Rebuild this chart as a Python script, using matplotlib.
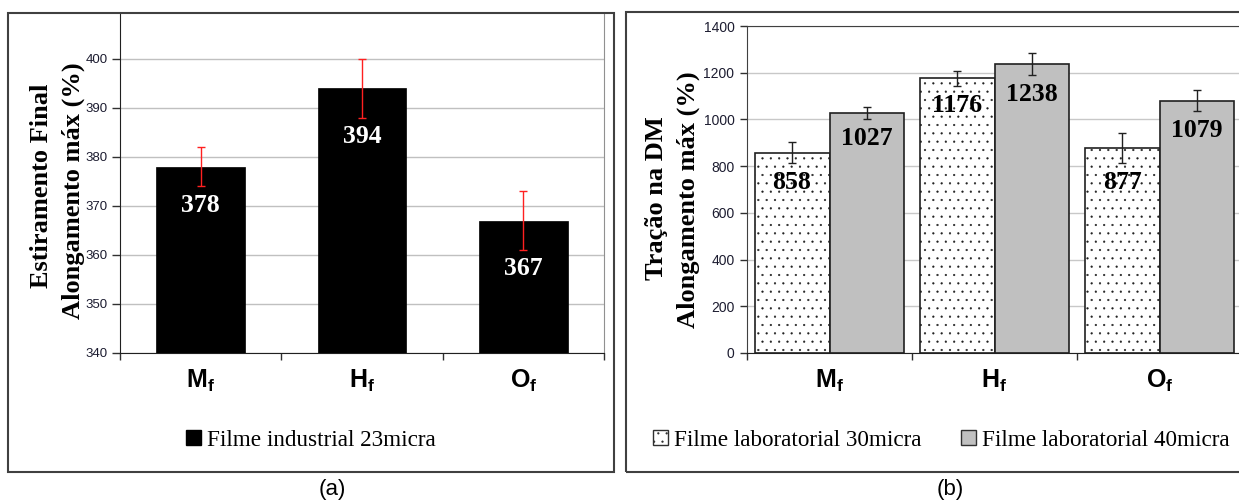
import matplotlib
matplotlib.use("Agg")
import matplotlib.pyplot as plt
from matplotlib.patches import Rectangle, Patch
import numpy as np

# ---- data ----
categories = [r"$\mathbf{M_f}$", r"$\mathbf{H_f}$", r"$\mathbf{O_f}$"]

ind_values = [378, 394, 367]          # Filme industrial 23micra
ind_err = [4, 6, 6]

lab30_values = [858, 1176, 877]       # Filme laboratorial 30micra
lab30_err = [45, 32, 65]
lab40_values = [1027, 1238, 1079]     # Filme laboratorial 40micra
lab40_err = [25, 48, 45]

left_ylabels = ["Estiramento Final", "Alongamento máx (%)"]
right_ylabels = ["Tração na DM", "Alongamento máx (%)"]
legend_a = ["Filme industrial 23micra"]
legend_b = ["Filme laboratorial 30micra", "Filme laboratorial 40micra"]

plt.rcParams["mathtext.fontset"] = "custom"
plt.rcParams["mathtext.bf"] = "Liberation Sans:bold"
plt.rcParams["mathtext.rm"] = "Liberation Sans"
plt.rcParams["mathtext.it"] = "Liberation Sans:italic"
plt.rcParams["hatch.linewidth"] = 0.35

W, H = 1239, 501
fig = plt.figure(figsize=(W / 100, H / 100), dpi=100)


def fx(px):
    return px / W


def fy(py):
    return 1 - py / H


SERIF = "Liberation Serif"
TICKFONT = "Liberation Sans"
TICKCOL = "#1c1c30"

# ---- outer frames of the two panels ----
for x0, y0, x1, y1 in [(8, 13, 614, 472), (626, 12, 1250, 472)]:
    fig.patches.append(Rectangle((fx(x0), fy(y1)), fx(x1 - x0), (y1 - y0) / H,
                                 transform=fig.transFigure, fill=False,
                                 edgecolor="#404040", linewidth=1.5, zorder=0))

# ---- panel (a) ----
axa = fig.add_axes([fx(120), fy(353), fx(604 - 120), (353 - 13.3) / H])
xa = np.arange(len(categories))
axa.bar(xa, ind_values, width=0.55, color="black", edgecolor="black",
        linewidth=0.5, zorder=2)
axa.errorbar(xa, ind_values, yerr=ind_err, fmt="none", ecolor="#ff2020",
             elinewidth=1.0, capsize=3, capthick=1.0, zorder=3)
for x, v, e in zip(xa, ind_values, ind_err):
    axa.annotate(f"{v}", (x, v - e), xytext=(0, -13.5), textcoords="offset points",
                 ha="center", va="center", color="white", fontsize=18.5,
                 fontweight="bold", family=SERIF, zorder=4)
axa.set_xlim(-0.5, 2.5)
axa.set_ylim(340, 409.3)
axa.set_yticks(np.arange(340, 401, 10))
axa.yaxis.grid(True, color="#c0c0c0", linewidth=1.0)
axa.set_axisbelow(True)
axa.set_xticks([-0.5, 0.5, 1.5, 2.5])
axa.set_xticklabels([])
axa.set_xticks(xa, minor=True)
axa.set_xticklabels(categories, minor=True, fontsize=18)
axa.tick_params(axis="x", which="minor", length=0, pad=11)
axa.tick_params(axis="x", which="major", length=5, width=1, direction="out",
                color="#303030")
axa.tick_params(axis="y", length=6, width=1, direction="out", pad=3,
                color="#303030", labelsize=9.5, labelcolor=TICKCOL)
for lab in axa.get_yticklabels():
    lab.set_family(TICKFONT)
axa.spines["top"].set_visible(False)
axa.spines["right"].set_color("#909090")
axa.spines["left"].set_color("#202020")
axa.spines["bottom"].set_color("#202020")

fig.text(fx(42), fy(186), left_ylabels[0], rotation=90, ha="center", va="center",
         fontsize=19, fontweight="bold", family=SERIF)
fig.text(fx(73), fy(191), left_ylabels[1], rotation=90, ha="center", va="center",
         fontsize=19, fontweight="bold", family=SERIF)

fig.legend(handles=[Patch(facecolor="black", edgecolor="black")], labels=legend_a,
           loc="center", bbox_to_anchor=(fx(311), fy(440)), frameon=False,
           prop={"family": SERIF, "size": 16.7}, handlelength=0.65,
           handleheight=0.65, handletextpad=0.25, borderpad=0)

fig.text(fx(332), fy(490), "(a)", ha="center", va="center", fontsize=16,
         family="Liberation Sans")

# ---- panel (b) ----
axb = fig.add_axes([fx(747), fy(353), fx(495), (353 - 26) / H])
xb = np.arange(len(categories))
bw = 0.4545
axb.bar(xb - bw / 2, lab30_values, width=bw, color="white", edgecolor="#202020",
        hatch="..", linewidth=1.2, zorder=2)
axb.bar(xb + bw / 2, lab40_values, width=bw, color="#c0c0c0", edgecolor="#202020",
        linewidth=1.2, zorder=2)
axb.errorbar(xb - bw / 2, lab30_values, yerr=lab30_err, fmt="none", ecolor="#202020",
             elinewidth=1.0, capsize=3, capthick=1.0, zorder=3)
axb.errorbar(xb + bw / 2, lab40_values, yerr=lab40_err, fmt="none", ecolor="#202020",
             elinewidth=1.0, capsize=3, capthick=1.0, zorder=3)
for offs, vals, errs in [(-bw / 2, lab30_values, lab30_err),
                         (bw / 2, lab40_values, lab40_err)]:
    for x, v, e in zip(xb + offs, vals, errs):
        axb.annotate(f"{v}", (x, v - e), xytext=(0, -14), textcoords="offset points",
                     ha="center", va="center", color="black", fontsize=18.5,
                     fontweight="bold", family=SERIF, zorder=4)
axb.set_xlim(-0.5, 2.5)
axb.set_ylim(0, 1400)
axb.set_yticks(np.arange(0, 1401, 200))
axb.yaxis.grid(True, color="#c8c8c8", linewidth=1.0)
axb.set_axisbelow(True)
axb.set_xticks([-0.5, 0.5, 1.5, 2.5])
axb.set_xticklabels([])
axb.set_xticks(xb, minor=True)
axb.set_xticklabels(categories, minor=True, fontsize=18)
axb.tick_params(axis="x", which="minor", length=0, pad=11)
axb.tick_params(axis="x", which="major", length=5, width=1, direction="out",
                color="#303030")
axb.tick_params(axis="y", length=5, width=1, direction="out", pad=4,
                color="#303030", labelsize=10, labelcolor=TICKCOL)
for lab in axb.get_yticklabels():
    lab.set_family(TICKFONT)
axb.spines["top"].set_color("#404040")
axb.spines["right"].set_color("#404040")
axb.spines["left"].set_color("#404040")
axb.spines["bottom"].set_color("#202020")

fig.text(fx(657), fy(198), right_ylabels[0], rotation=90, ha="center", va="center",
         fontsize=19, fontweight="bold", family=SERIF)
fig.text(fx(688), fy(200), right_ylabels[1], rotation=90, ha="center", va="center",
         fontsize=19, fontweight="bold", family=SERIF)

fig.legend(handles=[Patch(facecolor="white", edgecolor="#303030", hatch=".."),
                    Patch(facecolor="#c0c0c0", edgecolor="#303030")],
           labels=legend_b, loc="center", bbox_to_anchor=(fx(941), fy(440)),
           ncol=2, frameon=False, prop={"family": SERIF, "size": 16.7},
           handlelength=0.65, handleheight=0.65, handletextpad=0.25,
           columnspacing=1.7, borderpad=0)

fig.text(fx(950), fy(490), "(b)", ha="center", va="center", fontsize=16,
         family="Liberation Sans")

fig.savefig("out.png", dpi=100)
